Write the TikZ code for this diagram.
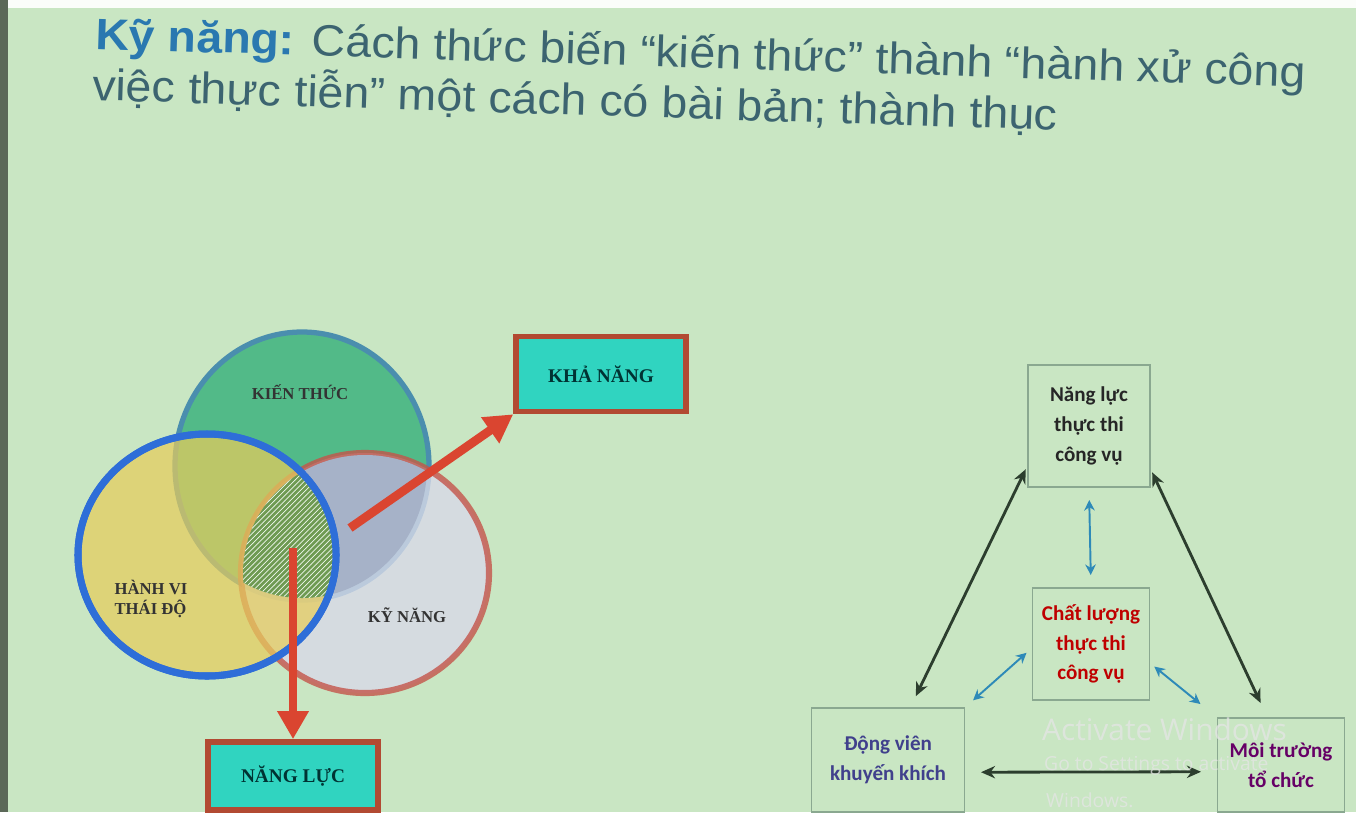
\documentclass[tikz,border=0pt]{standalone}
\usepackage{fontspec}
\setmainfont{Liberation Sans}
\newfontfamily\vnserif{Liberation Serif}
\newfontfamily\boxfont{Carlito}
\newfontfamily\wmfont{Open Sans}
\usetikzlibrary{arrows.meta,patterns}
\definecolor{slidebg}{HTML}{C9E6C3}
\definecolor{titleblue}{HTML}{2A78B0}
\definecolor{titletext}{HTML}{3C6470}
\definecolor{ktfill}{HTML}{52BA88}
\definecolor{ktline}{HTML}{4A8EAE}
\definecolor{hvfill}{HTML}{E6CC5C}
\definecolor{hvline}{HTML}{2E6ED8}
\definecolor{knfill}{HTML}{D8D9E8}
\definecolor{knline}{HTML}{C4544A}
\definecolor{ktkn}{HTML}{A6B2C8}
\definecolor{hatchbase}{HTML}{6E9A52}
\definecolor{redarrow}{HTML}{DA4530}
\definecolor{boxred}{HTML}{B24A32}
\definecolor{boxcyan}{HTML}{30D4C0}
\definecolor{darklink}{HTML}{2C3E2E}
\definecolor{bluelink}{HTML}{2E8AB8}
\definecolor{boxline}{HTML}{8AA890}
\begin{document}
\begin{tikzpicture}[x=0.02cm,y=-0.02cm,
    titleline/.style={anchor=base west, inner sep=0pt, rotate=-1.8, xscale=1.06, font=\fontsize{25}{28}\selectfont, text=titletext},
    vlabel/.style={font=\vnserif\bfseries\fontsize{9.5}{11}\selectfont, text=black!80, align=left},
    resultbox/.style={draw=boxred, line width=3.2pt, fill=boxcyan, minimum width=3.4cm,
        font=\vnserif\bfseries\fontsize{11}{12}\selectfont, text={black!60!teal}},
    redlink/.style={draw=redarrow, line width=5pt, -{Triangle[length=16pt,width=17pt]}},
    factorbox/.style={draw=boxline, line width=0.8pt, align=center,
        font=\boxfont\bfseries\fontsize{12}{17}\selectfont},
    darkarrow/.style={draw=darklink, line width=1.6pt, {Stealth[length=8pt,width=7pt]}-{Stealth[length=8pt,width=7pt]}},
    bluearrow/.style={draw=bluelink, line width=1.1pt, {Stealth[length=6pt,width=6pt]}-{Stealth[length=6pt,width=6pt]}},
    watermark/.style={font=\wmfont, text=white!80!gray, opacity=0.75, anchor=west}]
    \clip (0,0) rectangle (1356,812);
    \fill[slidebg] (0,0) rectangle (1356,812);
    \fill[white!92!slidebg] (0,0) rectangle (1356,8);
    \fill[black!55!slidebg] (0,0) rectangle (8,812);

    \node[titleline] (title1) at (95,49)
        {\textcolor{titleblue}{\textbf{Kỹ năng:}} Cách thức biến “kiến thức” thành “hành xử công};
    \node[titleline] (title2) at (92,100)
        {việc thực tiễn” một cách có bài bản; thành thục};

    \draw[fill=ktfill, draw=ktline, line width=3pt] (302,466) ellipse [x radius=127, y radius=134];
    \draw[fill=knfill, draw=knline, line width=3.5pt, opacity=0.8] (365,573) ellipse [x radius=124, y radius=120];
    \begin{scope}
        \clip (302,466) ellipse [x radius=125, y radius=132];
        \fill[ktkn] (365,573) ellipse [x radius=122, y radius=118];
    \end{scope}
    \draw[fill=hvfill, fill opacity=0.72, draw=hvline, line width=4pt] (207,555) ellipse [x radius=129, y radius=121];
    \begin{scope}
        \clip (302,466) ellipse [x radius=125, y radius=132];
        \clip (365,573) ellipse [x radius=122, y radius=118];
        \clip (207,555) ellipse [x radius=127, y radius=119];
        \fill[hatchbase] (0,0) rectangle (1356,812);
        \fill[pattern=north east lines, pattern color=white!70!slidebg] (0,0) rectangle (1356,812);
    \end{scope}
    \draw[draw=hvline, line width=4pt] (207,555) ellipse [x radius=129, y radius=121];

    \node[vlabel] (kienthuc) at (300,392) {KIẾN THỨC};
    \node[vlabel] (hanhvi) at (151,599) {HÀNH VI\\THÁI ĐỘ};
    \node[vlabel] (kynang) at (407,615) {KỸ NĂNG};

    \node[resultbox, minimum height=1.5cm] (khanang) at (601,374) {KHẢ NĂNG};
    \node[resultbox, minimum height=1.36cm] (nangluc) at (293,776) {NĂNG LỰC};
    \coordinate (from1) at (350,528);
    \coordinate (from2) at (293,548);
    \draw[redlink] (from1) -- (khanang.south west);
    \draw[redlink] (from2) -- (nangluc.north);

    \node[factorbox, text=black!85, minimum width=2.44cm, minimum height=2.44cm] (nlthucthi) at (1089,426)
        {Năng lực\\thực thi\\công vụ};
    \node[factorbox, text=red!75!black, minimum width=2.34cm, minimum height=2.24cm] (chatluong) at (1091,644)
        {Chất lượng\\thực thi\\công vụ};
    \node[factorbox, text=blue!40!black!75, minimum width=3.06cm, minimum height=2.08cm] (dongvien) at (888,760)
        {Động viên\\khuyến khích};
    \node[factorbox, text=violet!80!black, minimum width=2.54cm, minimum height=1.88cm] (moitruong) at (1281,765)
        {Môi trường\\tổ chức};

    \draw[darkarrow, shorten <=2pt, shorten >=7pt] (nlthucthi.213) -- (dongvien.67);
    \draw[darkarrow, shorten <=2pt, shorten >=9pt] (nlthucthi.-35) -- (moitruong.106);
    \draw[darkarrow, shorten <=9pt, shorten >=9pt] (dongvien.-9) -- (moitruong.186);
    \draw[bluearrow, shorten <=7pt, shorten >=7pt] (nlthucthi.south) -- (chatluong.north);
    \draw[bluearrow, shorten <=4pt, shorten >=6pt] (chatluong.184) -- (dongvien.north east);
    \draw[bluearrow, shorten <=3pt, shorten >=12pt] (chatluong.-18) -- (moitruong.north west);

    \node[watermark, font=\wmfont\fontsize{17}{18}\selectfont] (wm1) at (1036,729) {Activate Windows};
    \node[watermark, font=\wmfont\fontsize{11}{12}\selectfont] (wm2) at (1038,766) {Go to Settings to activate};
    \node[watermark, font=\wmfont\fontsize{11}{12}\selectfont] (wm3) at (1040,800) {Windows.};
\end{tikzpicture}
\end{document}
